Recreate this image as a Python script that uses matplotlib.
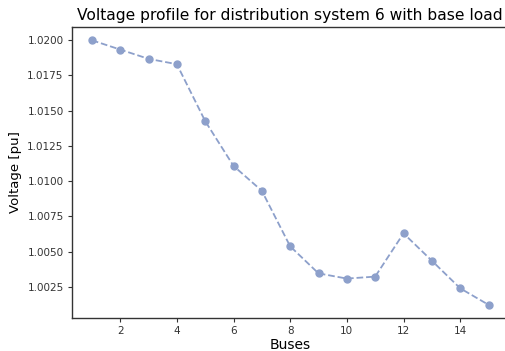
import matplotlib
matplotlib.use("Agg")
import matplotlib.pyplot as plt

buses = list(range(1, 16))
voltage = [1.0200, 1.01934, 1.01868, 1.0183, 1.01426, 1.01108, 1.00931, 1.00537,
           1.00345, 1.00308, 1.00322, 1.00629, 1.00435, 1.00239, 1.00122]

fig = plt.figure(figsize=(5.05, 3.51), dpi=100)
ax = fig.add_axes([0.1426, 0.094, 0.864, 0.829])
ax.plot(buses, voltage, ls="--", marker="o", color="#8da0cb", lw=1.3, ms=5)
for s in ax.spines.values():
    s.set_color("#333333"); s.set_linewidth(1.0)
ax.tick_params(labelsize=7.5, colors="#333333", length=3, pad=3)
ax.set_xticks([2, 4, 6, 8, 10, 12, 14])
ax.set_yticks([1.0025, 1.005, 1.0075, 1.01, 1.0125, 1.015, 1.0175, 1.02])
ax.set_yticklabels([f"{v:.4f}" for v in ax.get_yticks()])
ax.set_xlabel("Buses", fontsize=10, labelpad=1)
ax.set_ylabel("Voltage [pu]", fontsize=9.5, labelpad=4)
ax.set_title("Voltage profile for distribution system 6 with base load", fontsize=11.2, pad=5)
fig.savefig("out.png", dpi=100)
